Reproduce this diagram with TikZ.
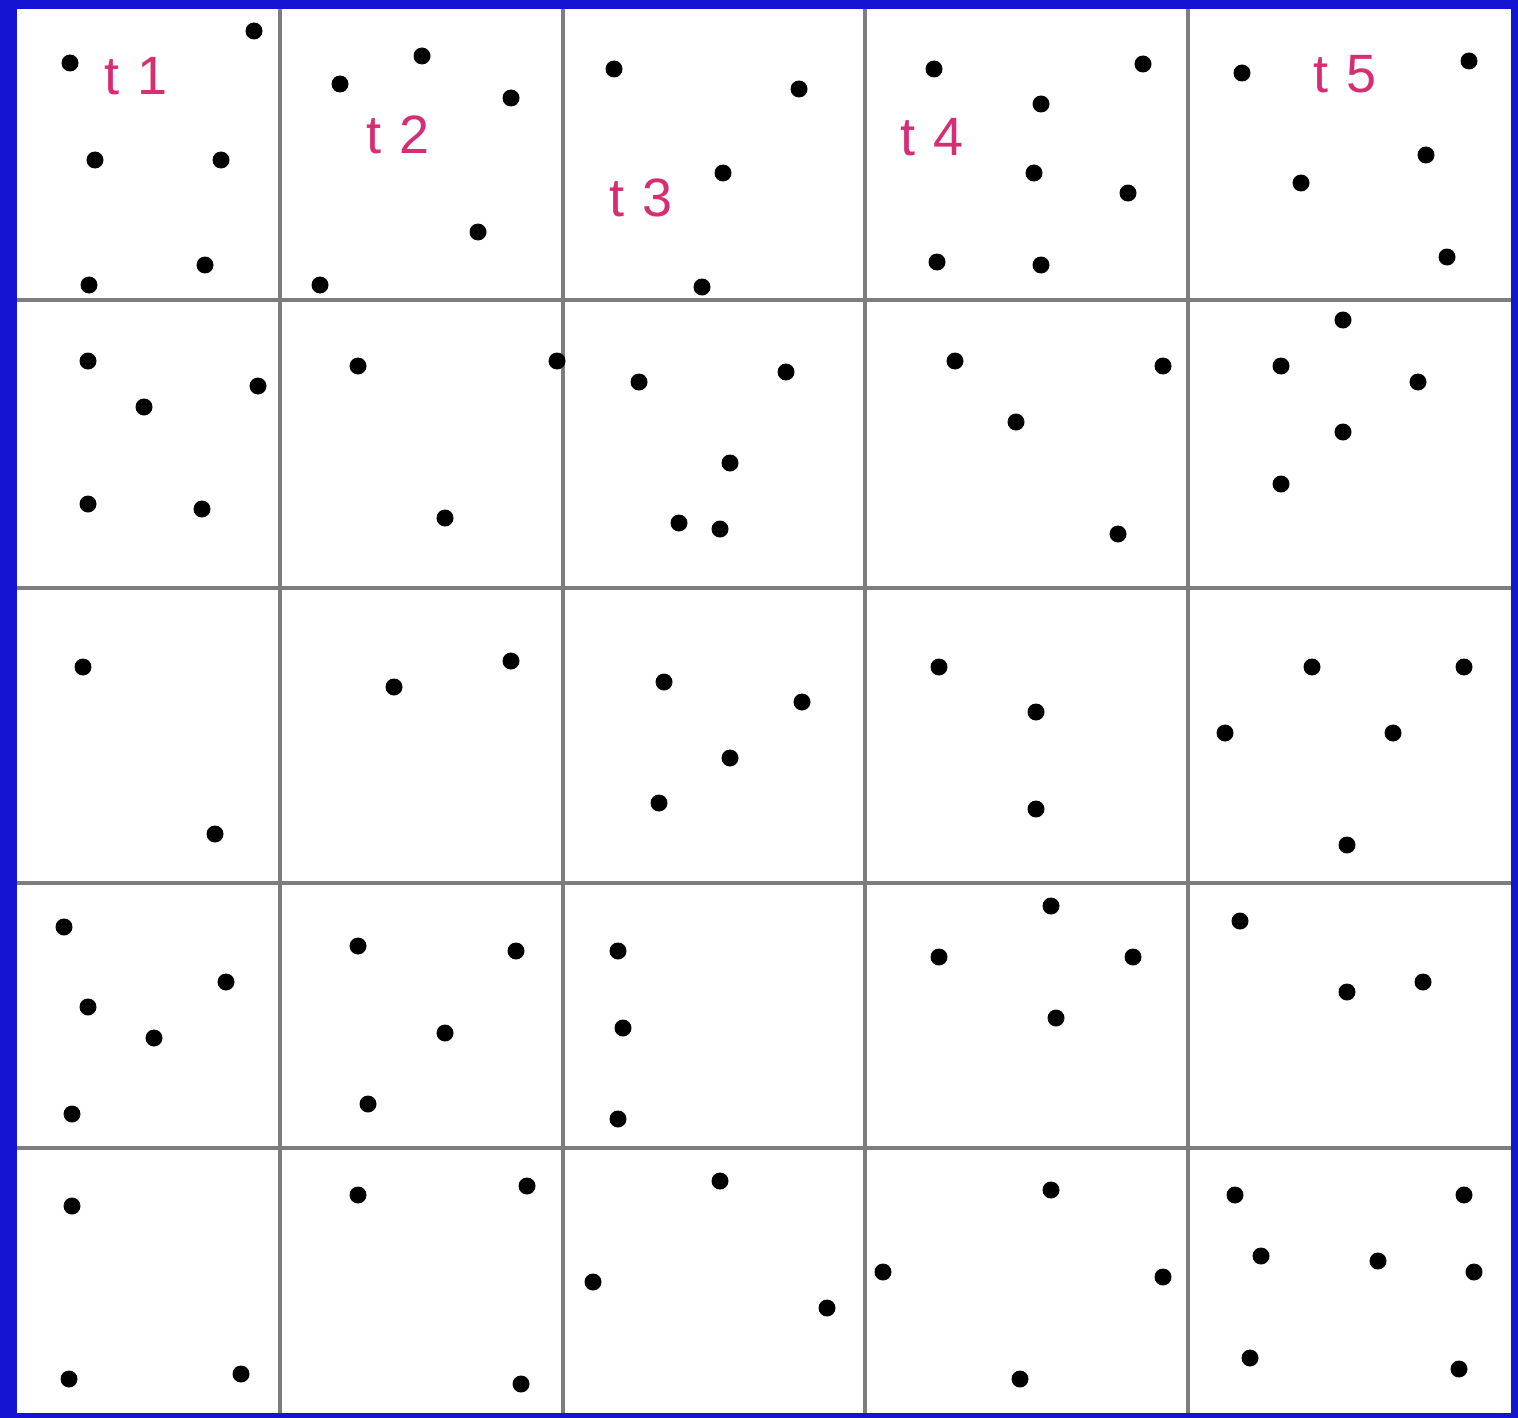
\documentclass[tikz,border=0pt]{standalone}
\usepackage{fontspec}
\setmainfont{Liberation Sans}
\definecolor{frameblue}{RGB}{20,20,210}
\definecolor{gridgray}{RGB}{125,125,125}
\definecolor{labelred}{RGB}{215,45,115}
\tikzset{
  dot/.style={circle,fill=black,inner sep=0pt,minimum size=17pt},
  tlabel/.style={text=labelred,font=\fontsize{54}{60}\selectfont,inner sep=0pt},
  gridline/.style={draw=gridgray,line width=4pt}
}
\begin{document}
\begin{tikzpicture}[x=1pt,y=-1pt]
\useasboundingbox (0,0) rectangle (1518,1418);
\fill[frameblue] (0,0) rectangle (1518,1418);
\fill[white] (17,9) rectangle (1511,1413);
% grid
\foreach \x in {280,563,865,1188}
  \draw[gridline] (\x,9) -- (\x,1413);
\foreach \y in {300,588,883,1148}
  \draw[gridline] (17,\y) -- (1511,\y);
% labels
\node[tlabel] (t1) at (136,76) {t\,\,1};
\node[tlabel] (t2) at (398,135) {t\,\,2};
\node[tlabel] (t3) at (641,198) {t\,\,3};
\node[tlabel] (t4) at (932,137) {t\,\,4};
\node[tlabel] (t5) at (1345,74) {t\,\,5};
% dots
\foreach \p [count=\i] in {
 {70,63},{254,31},{95,160},{221,160},{89,285},{205,265},
 {340,84},{422,56},{511,98},{478,232},{320,285},
 {614,69},{799,89},{723,173},{702,287},
 {934,69},{1143,64},{1041,104},{1034,173},{1128,193},{937,262},{1041,265},
 {1242,73},{1469,61},{1426,155},{1301,183},{1447,257},
 {88,361},{258,386},{144,407},{88,504},{202,509},
 {358,366},{557,361},{445,518},
 {639,382},{786,372},{730,463},{679,523},{720,529},
 {955,361},{1163,366},{1016,422},{1118,534},
 {1343,320},{1281,366},{1418,382},{1343,432},{1281,484},
 {83,667},{215,834},
 {394,687},{511,661},
 {664,682},{802,702},{730,758},{659,803},
 {939,667},{1036,712},{1036,809},
 {1312,667},{1464,667},{1225,733},{1393,733},{1347,845},
 {64,927},{226,982},{88,1007},{154,1038},{72,1114},
 {358,946},{516,951},{445,1033},{368,1104},
 {618,951},{623,1028},{618,1119},
 {1051,906},{939,957},{1133,957},{1056,1018},
 {1240,921},{1347,992},{1423,982},
 {72,1206},{69,1379},{241,1374},
 {358,1195},{527,1186},{521,1384},
 {720,1181},{593,1282},{827,1308},
 {1051,1190},{883,1272},{1163,1277},{1020,1379},
 {1235,1195},{1464,1195},{1261,1256},{1378,1261},{1474,1272},{1250,1358},{1459,1369}}
  \node[dot] (d\i) at (\p) {};
\end{tikzpicture}
\end{document}
